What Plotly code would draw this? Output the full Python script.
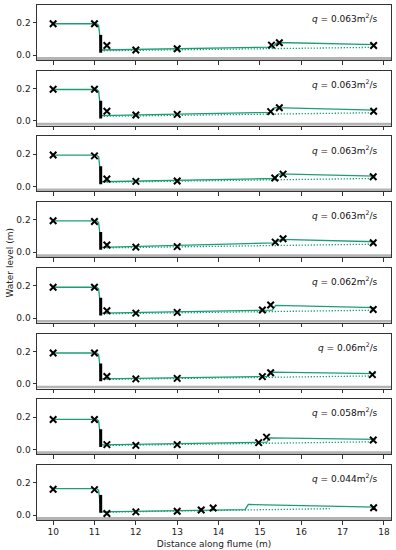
import plotly.graph_objects as go
from plotly.subplots import make_subplots

# ---- data ----
discharge = ["0.063", "0.063", "0.063", "0.063", "0.062", "0.06", "0.058", "0.044"]

meas_x = [
    [10, 11, 11.3, 12, 13, 15.28, 15.47, 17.75],
    [10, 11, 11.3, 12, 13, 15.26, 15.47, 17.75],
    [10, 11, 11.3, 12, 13, 15.36, 15.56, 17.74],
    [10, 11, 11.3, 12, 13, 15.37, 15.56, 17.74],
    [10, 11, 11.3, 12, 13, 15.06, 15.26, 17.74],
    [10, 11, 11.3, 12, 13, 15.06, 15.26, 17.72],
    [10, 11, 11.3, 12, 13, 14.97, 15.16, 17.74],
    [10, 11, 11.3, 12, 13, 13.58, 13.87, 17.75],
]
meas_y = [
    [0.194, 0.194, 0.060, 0.032, 0.040, 0.062, 0.077, 0.060],
    [0.195, 0.195, 0.059, 0.036, 0.040, 0.057, 0.081, 0.059],
    [0.195, 0.190, 0.047, 0.032, 0.035, 0.053, 0.077, 0.061],
    [0.195, 0.190, 0.045, 0.032, 0.035, 0.063, 0.084, 0.059],
    [0.190, 0.190, 0.045, 0.030, 0.035, 0.049, 0.080, 0.053],
    [0.190, 0.190, 0.045, 0.030, 0.033, 0.044, 0.068, 0.056],
    [0.185, 0.185, 0.030, 0.025, 0.030, 0.042, 0.076, 0.058],
    [0.160, 0.158, 0.010, 0.020, 0.024, 0.032, 0.044, 0.046],
]

# modelled profile: upstream level, jump start x, jump end x, levels
upstream_level = [0.194, 0.194, 0.194, 0.194, 0.190, 0.190, 0.186, 0.164]
gate_level = [0.032, 0.032, 0.030, 0.030, 0.030, 0.030, 0.028, 0.020]
jump_x0 = [15.30, 15.26, 15.38, 15.37, 15.30, 15.20, 15.17, 14.64]
jump_x1 = [15.42, 15.35, 15.45, 15.50, 15.38, 15.28, 15.22, 14.72]
pre_jump_level = [0.050, 0.053, 0.050, 0.058, 0.049, 0.045, 0.045, 0.034]
post_jump_level = [0.078, 0.082, 0.078, 0.080, 0.078, 0.072, 0.072, 0.066]
end_level = [0.065, 0.066, 0.065, 0.065, 0.064, 0.062, 0.062, 0.050]

# supercritical (dotted) profile
super_x_end = [17.7, 17.7, 17.7, 17.7, 17.7, 17.7, 17.7, 16.69]
super_y_start = [0.027, 0.028, 0.027, 0.027, 0.026, 0.026, 0.024, 0.018]
super_y_end = [0.048, 0.050, 0.050, 0.050, 0.048, 0.048, 0.047, 0.040]

gate_x = 11.15
gate_bottom = 0.015
gate_top = 0.125

x_ticks = [10, 11, 12, 13, 14, 15, 16, 17, 18]

GREEN = "#1b9e77"
AX = "#333333"
FONT = "DejaVu Sans"

n = len(discharge)
fig = make_subplots(rows=n, cols=1, shared_xaxes=True, vertical_spacing=0.0208)

for i in range(n):
    r = i + 1
    # solid modelled profile
    px = [10, 11.05, 11.1, 11.125, 11.14, gate_x,
          jump_x0[i], jump_x1[i], 17.8]
    u = upstream_level[i]
    py = [u, u, u - 0.01, u - 0.05, u - 0.1, gate_level[i],
          pre_jump_level[i], post_jump_level[i], end_level[i]]
    fig.add_trace(go.Scatter(x=px, y=py, mode="lines",
                             line=dict(color=GREEN, width=1.3),
                             showlegend=False, hoverinfo="skip"), row=r, col=1)
    # dotted supercritical profile
    fig.add_trace(go.Scatter(x=[gate_x, super_x_end[i]],
                             y=[super_y_start[i], super_y_end[i]],
                             mode="lines",
                             line=dict(color=GREEN, width=1.3, dash="1.3px,1.7px"),
                             showlegend=False, hoverinfo="skip"), row=r, col=1)
    # gate
    fig.add_trace(go.Scatter(x=[gate_x, gate_x], y=[gate_bottom, gate_top],
                             mode="lines", line=dict(color="black", width=3),
                             showlegend=False, hoverinfo="skip"), row=r, col=1)
    # measurements
    fig.add_trace(go.Scatter(x=meas_x[i], y=meas_y[i], mode="markers",
                             marker=dict(symbol="x-thin", size=6.5,
                                         line=dict(color="black", width=2)),
                             showlegend=False, hoverinfo="skip"), row=r, col=1)

    xa = "x" if r == 1 else f"x{r}"
    ya = "y" if r == 1 else f"y{r}"
    # bed band
    fig.add_shape(type="rect", xref=f"{xa} domain", yref=ya,
                  x0=0, x1=1, y0=-0.03, y1=-0.012,
                  fillcolor="#b4b4b4", line=dict(width=0), layer="below")
    fig.add_annotation(xref=f"{xa} domain", yref=f"{ya} domain",
                       x=0.97, y=0.76, xanchor="right", yanchor="middle",
                       text=f"<i>q</i> = {discharge[i]}m<sup>2</sup>/s",
                       showarrow=False, font=dict(size=9, color="#111", family=FONT))

fig.update_xaxes(range=[9.61, 18.17], tickvals=x_ticks, ticks="outside",
                 ticklen=3.5, tickwidth=0.8, tickcolor=AX,
                 showline=True, mirror=True, linecolor=AX, linewidth=1,
                 showgrid=False, zeroline=False, automargin=False,
                 tickfont=dict(size=9, color="#222", family=FONT))
fig.update_yaxes(range=[-0.03, 0.31], tickvals=[0.0, 0.2], tickformat=".1f",
                 ticks="outside", ticklen=3.5, tickwidth=0.8, tickcolor=AX,
                 showline=True, mirror=True, linecolor=AX, linewidth=1,
                 showgrid=False, zeroline=False, automargin=False,
                 tickfont=dict(size=9, color="#222", family=FONT))
fig.update_xaxes(title=dict(text="Distance along flume (m)", standoff=4,
                            font=dict(size=9, color="#222", family=FONT)),
                 row=n, col=1)

fig.add_annotation(xref="paper", yref="paper", x=-0.079, y=0.5,
                   text="Water level (m)", textangle=-90, showarrow=False,
                   xanchor="center", yanchor="middle",
                   font=dict(size=9, color="#222", family=FONT))

fig.update_layout(width=396, height=550,
                  margin=dict(l=37, r=5, t=5, b=30, autoexpand=False),
                  paper_bgcolor="white", plot_bgcolor="white",
                  font=dict(family=FONT))

fig.write_html("out.html", config={"displayModeBar": False},
               post_script="document.body.style.margin='0';"
                           "document.body.style.overflow='hidden';")
